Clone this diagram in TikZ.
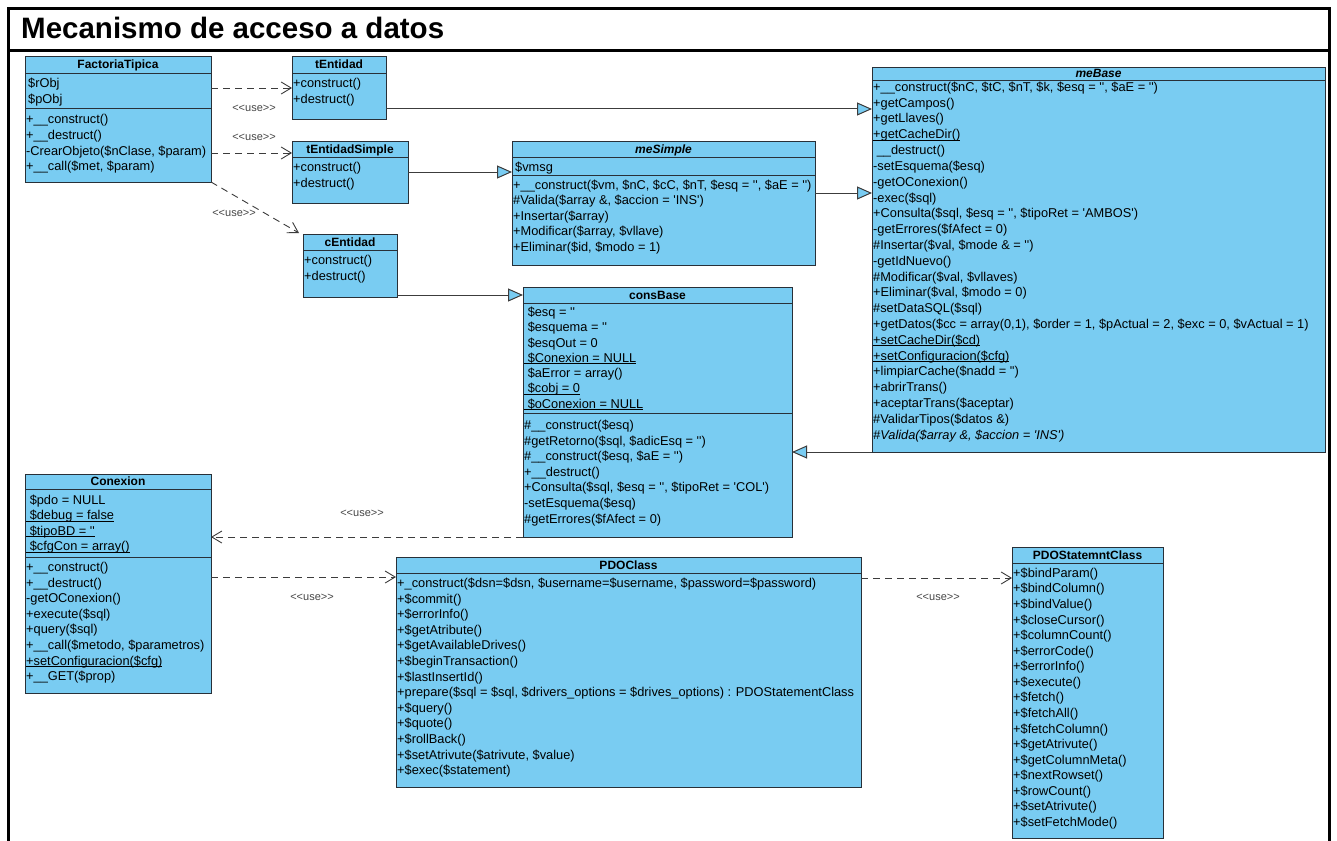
\documentclass[tikz,border=0pt]{standalone}
\usepackage{fontspec}
\setmainfont{Liberation Sans}[Ligatures=TeXOff]
\usetikzlibrary{arrows.meta}
\definecolor{clsfill}{RGB}{121,204,242}
\definecolor{clsline}{RGB}{40,48,56}
\definecolor{wire}{RGB}{60,60,60}
\definecolor{stereo}{RGB}{70,70,70}

% member rows of a class box: prefix, x, first row centre, row step, items
\newcommand\classrows[5]{%
  \foreach \txt [count=\k] in {#5} {
    \node[mem] (#1-\k) at (#2, {#3+(\k-1)*#4+4.4}) {\txt};
  }%
}
% horizontal compartment rule inside a class box
\newcommand\clsrule[2]{%
  \draw[sepline] ([yshift=-#2pt]#1.north west) -- ([yshift=-#2pt]#1.north east);%
}
% static member: text with a thin rule just under the baseline
\newcommand\statmem[1]{%
  \setbox0=\hbox{#1}\rlap{\rule[-1.7pt]{\wd0}{0.7pt}}\box0}

\begin{document}
\begin{tikzpicture}[x=1pt,y=-1pt,
  cls/.style={draw=clsline, fill=clsfill, line width=1pt, anchor=north west,
    inner sep=0pt, outer sep=0pt},
  sepline/.style={draw=clsline, line width=0.9pt},
  mem/.style={anchor=base west, inner sep=0pt, font=\fontsize{12.8}{14}\selectfont},
  head/.style={anchor=base, inner sep=0pt, font=\fontsize{12}{13}\selectfont\bfseries},
  gen/.style={draw=wire, line width=1pt,
    -{Triangle[open, length=15pt, width=13pt, fill=clsfill]}},
  dep/.style={draw=wire, line width=0.9pt, dash pattern=on 7pt off 5pt,
    -{Straight Barb[length=10pt, width=12pt]}},
  use/.style={font=\fontsize{11}{12}\selectfont, text=stereo, inner sep=0pt}
]
\useasboundingbox (0,0) rectangle (1337,840);
\fill[white] (0,0) rectangle (1337,840);
\clip (0,0) rectangle (1337,840);

% frame and title band
\draw[line width=3pt] (8,860) -- (8,9) -- (1329,9) -- (1329,860);
\draw[line width=3pt] (8,51) -- (1329,51);
\node[anchor=base west, inner sep=0pt, font=\fontsize{29.5}{32}\selectfont\bfseries]
  (title) at (21,39) {Mecanismo de acceso a datos};

% ---------------- class boxes ----------------
\node[cls, minimum width=186pt, minimum height=125pt] (ft) at (25,57) {};
\node[cls, minimum width=94pt,  minimum height=63pt]  (te) at (292,57) {};
\node[cls, minimum width=116pt, minimum height=62pt]  (tes) at (292,141) {};
\node[cls, minimum width=94pt,  minimum height=63pt]  (ce) at (303,234) {};
\node[cls, minimum width=303pt, minimum height=124pt] (ms) at (512,141) {};
\node[cls, minimum width=453pt, minimum height=384pt] (mb) at (872,68) {};
\node[cls, minimum width=269pt, minimum height=250pt] (cb) at (523,287) {};
\node[cls, minimum width=186pt, minimum height=219pt] (cx) at (25,474) {};
\node[cls, minimum width=465pt, minimum height=230pt] (pdo) at (396,557) {};
\node[cls, minimum width=151pt, minimum height=291pt] (pst) at (1012,547) {};

% compartment rules
\clsrule{ft}{16}  \clsrule{ft}{51}
\clsrule{te}{16}
\clsrule{tes}{16}
\clsrule{ce}{16}
\clsrule{ms}{16}  \clsrule{ms}{34}
\clsrule{mb}{12}
\clsrule{cb}{16}  \clsrule{cb}{126}
\clsrule{cx}{15}  \clsrule{cx}{83}
\clsrule{pdo}{16}
\clsrule{pst}{16}

% class names
\node[head] (ft-h)  at ([yshift=-12pt]ft.north)  {FactoriaTipica};
\node[head] (te-h)  at ([yshift=-12pt]te.north)  {tEntidad};
\node[head] (tes-h) at ([yshift=-12pt]tes.north) {tEntidadSimple};
\node[head] (ce-h)  at ([yshift=-12pt]ce.north)  {cEntidad};
\node[head] (ms-h)  at ([yshift=-12pt]ms.north)  {\itshape meSimple};
\node[head] (mb-h)  at ([yshift=-10pt]mb.north)  {\itshape meBase};
\node[head] (cb-h)  at ([yshift=-12pt]cb.north)  {consBase};
\node[head] (cx-h)  at ([yshift=-11.5pt]cx.north) {Conexion};
\node[head] (pdo-h) at ([yshift=-12pt]pdo.north) {PDOClass};
\node[head] (pst-h) at ([yshift=-12pt]pst.north) {PDOStatemntClass};

% ---------------- members ----------------
\classrows{fta}{28}{83}{16}{\$rObj, \$pObj}
\classrows{fto}{26}{119}{15.8}{+\_\_construct(), +\_\_destruct(),
  {-CrearObjeto(\$nClase, \$param)}, {+\_\_call(\$met, \$param)}}
\classrows{teo}{293}{83}{16}{+construct(), +destruct()}
\classrows{teso}{293}{167}{16}{+construct(), +destruct()}
\classrows{ceo}{304}{260}{16}{+construct(), +destruct()}

\classrows{msa}{515}{167}{15.6}{\$vmsg}
\classrows{mso}{513}{185}{15.5}{
  {+\_\_construct(\$vm, \$nC, \$cC, \$nT, \$esq = '', \$aE = '')},
  {\#Valida(\$array \&, \$accion = 'INS')},
  +Insertar(\$array),
  {+Modificar(\$array, \$vllave)},
  {+Eliminar(\$id, \$modo = 1)}}

\classrows{mbo}{873}{87}{15.8}{
  {+\_\_construct(\$nC, \$tC, \$nT, \$k, \$esq = '', \$aE = '')},
  +getCampos(),
  +getLlaves(),
  \statmem{+getCacheDir()},
  \ \_\_destruct(),
  -setEsquema(\$esq),
  -getOConexion(),
  -exec(\$sql),
  {+Consulta(\$sql, \$esq = '', \$tipoRet = 'AMBOS')},
  -getErrores(\$fAfect = 0),
  {\#Insertar(\$val, \$mode \& = '')},
  -getIdNuevo(),
  {\#Modificar(\$val, \$vllaves)},
  {+Eliminar(\$val, \$modo = 0)},
  \#setDataSQL(\$sql),
  {+getDatos(\$cc = array(0,1), \$order = 1, \$pActual = 2, \$exc = 0, \$vActual = 1)},
  \statmem{+setCacheDir(\$cd)},
  \statmem{+setConfiguracion(\$cfg)},
  +limpiarCache(\$nadd = ''),
  +abrirTrans(),
  +aceptarTrans(\$aceptar),
  \#ValidarTipos(\$datos \&),
  {\itshape\#Valida(\$array \&, \$accion = 'INS')}}

\classrows{cba}{524}{312}{15.3}{
  \ \$esq = '',
  \ \$esquema = '',
  \ \$esqOut = 0,
  \statmem{\ \$Conexion = NULL},
  \ \$aError = array(),
  \statmem{\ \$cobj = 0},
  \statmem{\ \$oConexion = NULL}}
\classrows{cbo}{524}{425}{15.6}{
  \#\_\_construct(\$esq),
  {\#getRetorno(\$sql, \$adicEsq = '')},
  {\#\_\_construct(\$esq, \$aE = '')},
  +\_\_destruct(),
  {+Consulta(\$sql, \$esq = '', \$tipoRet = 'COL')},
  -setEsquema(\$esq),
  \#getErrores(\$fAfect = 0)}

\classrows{cxa}{26}{500}{15.5}{
  \ \$pdo = NULL,
  \statmem{\ \$debug = false},
  \statmem{\ \$tipoBD = ''},
  \statmem{\ \$cfgCon = array()}}
\classrows{cxo}{26}{567}{15.6}{
  +\_\_construct(),
  +\_\_destruct(),
  -getOConexion(),
  +execute(\$sql),
  +query(\$sql),
  {+\_\_call(\$metodo, \$parametros)},
  \statmem{+setConfiguracion(\$cfg)},
  +\_\_GET(\$prop)}

\classrows{pdoo}{397}{583}{15.6}{
  {+\_construct(\$dsn=\$dsn, \$username=\$username, \$password=\$password)},
  +\$commit(),
  +\$errorInfo(),
  +\$getAtribute(),
  +\$getAvailableDrives(),
  +\$beginTransaction(),
  +\$lastInsertId(),
  {+prepare(\$sql = \$sql, \$drivers\_options = \$drives\_options) : PDOStatementClass},
  +\$query(),
  +\$quote(),
  +\$rollBack(),
  {+\$setAtrivute(\$atrivute, \$value)},
  +\$exec(\$statement)}

\classrows{psto}{1013}{573}{15.56}{
  +\$bindParam(), +\$bindColumn(), +\$bindValue(), +\$closeCursor(),
  +\$columnCount(), +\$errorCode(), +\$errorInfo(), +\$execute(),
  +\$fetch(), +\$fetchAll(), +\$fetchColumn(), +\$getAtrivute(),
  +\$getColumnMeta(), +\$nextRowset(), +\$rowCount(), +\$setAtrivute(),
  +\$setFetchMode()}

% ---------------- generalizations ----------------
\draw[gen] (te.east |- 0,109) -- (mb.west |- 0,109);
\draw[gen] (tes.east |- 0,172) -- (ms.west |- 0,172);
\draw[gen] (ms.east |- 0,193) -- (mb.west |- 0,193);
\draw[gen] (ce.east |- 0,295) -- (cb.west |- 0,295);
\draw[gen] (mb.south west) -- (cb.east |- mb.south west);

% ---------------- dependencies ----------------
\draw[dep] (ft.east |- 0,88) -- (te.west |- 0,88);
\draw[dep] (ft.east |- 0,153) -- (tes.west |- 0,153);
\draw[dep] (ft.south east) -- ([xshift=-4pt,yshift=1pt]ce.north west);
\draw[dep] (cb.south west) -- (cx.east |- cb.south west);
\draw[dep] (cx.east |- 0,577) -- (pdo.west |- 0,577);
\draw[dep] (pdo.east |- 0,578) -- (pst.west |- 0,578);

\node[use] (u1) at (254,108) {<<use>>};
\node[use] (u2) at (254,137) {<<use>>};
\node[use] (u3) at (234,213) {<<use>>};
\node[use] (u4) at (362,513) {<<use>>};
\node[use] (u5) at (312,597) {<<use>>};
\node[use] (u6) at (938,597) {<<use>>};
\end{tikzpicture}
\end{document}
